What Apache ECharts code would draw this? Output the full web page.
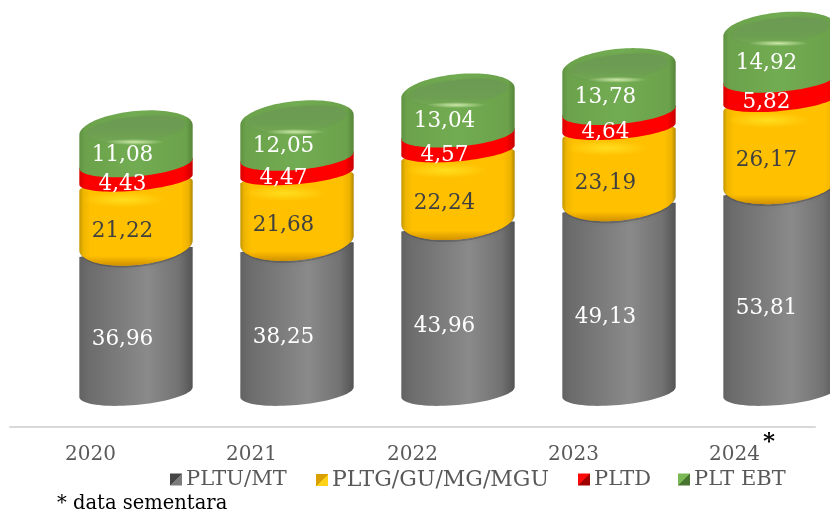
<!DOCTYPE html>
<html><head><meta charset="utf-8">
<style>html,body{margin:0;padding:0;background:#fff}#c{width:830px;height:515px}</style>
<script src="https://cdn.jsdelivr.net/npm/echarts@6/dist/echarts.min.js"></script>
</head><body><div id="c"></div>
<script>
const years = ['2020','2021','2022','2023','2024'];
const pltu = [36.96,38.25,43.96,49.13,53.81];
const pltg = [21.22,21.68,22.24,23.19,26.17];
const pltd = [4.43,4.47,4.57,4.64,5.82];
const ebt  = [11.08,12.05,13.04,13.78,14.92];
const names = ['PLTU/MT','PLTG/GU/MG/MGU','PLTD','PLT EBT'];
const FONT = 'DejaVu Serif';

const OFFSET = 45.5, LABEL_DX = 32, S = 5;
function arc(cx, cy, rx, ry, t0, t1, n) {
  const p = [];
  for (let i = 0; i <= n; i++) {
    const t = t0 + (t1 - t0) * i / n;
    p.push([cx + rx * Math.cos(t), cy + ry * Math.sin(t) - S * Math.cos(t)]);
  }
  return p;
}
function hgrad(stops) {
  return {type:'linear',x:0,y:0,x2:1,y2:0,colorStops:stops.map(s=>({offset:s[0],color:s[1]}))};
}
function vgrad(stops) {
  return {type:'linear',x:0,y:0,x2:0,y2:1,colorStops:stops.map(s=>({offset:s[0],color:s[1]}))};
}
function glow(color) {
  return {type:'radial',x:.5,y:.5,r:.5,colorStops:[{offset:0,color:color},{offset:1,color:color.replace(/[\d.]+\)$/,'0)')}]};
}
const grayFill = hgrad([[0,'#626262'],[.08,'#6c6c6c'],[.6,'#8a8a8a'],[.88,'#727272'],[1,'#545454']]);
const yellowFill = hgrad([[0,'#c39700'],[.035,'#eeb500'],[.1,'#ffc000'],[.9,'#ffc000'],[.965,'#ecb200'],[1,'#b08600']]);
const yellowLip = vgrad([[0,'rgba(190,125,0,0)'],[.62,'rgba(190,125,0,0)'],[1,'rgba(190,125,0,.7)']]);
const redFill = hgrad([[0,'#d80000'],[.05,'#fa0000'],[.92,'#ff0000'],[1,'#c80000']]);
const greenFill = hgrad([[0,'#5f9142'],[.05,'#6ba24b'],[.5,'#72ac52'],[.94,'#6ba24b'],[1,'#568539']]);

function poly(points, fill, blur) { return {type:'polygon',shape:{points},style:{fill,shadowBlur:blur||0,shadowColor:blur?'rgba(104,150,78,1)':'transparent'}}; }
function line(points, stroke, w, blur) {
  return {type:'polyline',shape:{points,smooth:0},style:{stroke,lineWidth:w,fill:'none',lineCap:'round',shadowBlur:blur||0,shadowColor:stroke}};
}
function oval(cx, cy, rx, ry, fill) {
  return {type:'circle',x:cx,y:cy,scaleY:ry/rx,shape:{cx:0,cy:0,r:rx},style:{fill}};
}

function makeRender(kind, textColor, dy) {
  return function (params, api) {
    const i = api.value(0);
    const c0 = api.coord([i, api.value(1)]);
    const c1 = api.coord([i, api.value(2)]);
    const v = api.value(3);
    const rx = api.size([1, 0])[0] * 0.352;
    const cx = c0[0] + OFFSET, yb = c0[1], yt = c1[1];
    const ch = [];
    if (kind === 'gray') {
      ch.push(poly(arc(cx, yb, rx, 13, 0, Math.PI, 40).concat(arc(cx, yt - 5, rx, 1, Math.PI, 2 * Math.PI, 8)), grayFill));
    } else if (kind === 'yellow') {
      const bottom = arc(cx, yb - 12, rx, 20, 0, Math.PI, 50);
      const pts = bottom.concat(arc(cx, yt + 6, rx, 8, Math.PI, 2 * Math.PI, 30));
      ch.push(line(arc(cx, yb - 12, rx - 1, 21, 0.1, Math.PI - 0.1, 40), 'rgba(50,50,50,.3)', 2, 4));
      ch.push(poly(pts, yellowFill));
      ch.push(poly(bottom, yellowLip));
      ch.push(oval(cx - 12, yt + 20, 42, 8, glow('rgba(255,232,40,.75)')));
    } else if (kind === 'red') {
      ch.push(poly(arc(cx, yb, rx, 11, 0, Math.PI, 40).concat(arc(cx, yt, rx, 6, Math.PI, 2 * Math.PI, 20)), redFill));
    } else {
      ch.push(poly(arc(cx, yb, rx, 13, 0, Math.PI, 40).concat(arc(cx, yt + 7, rx, 19, Math.PI, 2 * Math.PI, 50)), greenFill));
      ch.push(poly(arc(cx, yt + 6, rx - 8, 12, 0, 2 * Math.PI, 60), vgrad([[0,'#6c9a54'],[.7,'#6d9e51'],[1,'#72a852']]), 3));
      ch.push(oval(cx - 2, yt + 19, 30, 3, glow('rgba(215,240,180,.9)')));
    }
    ch.push({
      type:'text',z2:50,
      style:{
        x:c0[0] + LABEL_DX,
        y:(yb + yt) / 2 + 12 + dy,
        text:v.toFixed(2).replace('.', ','),
        fill:textColor,
        font:'21.5px "' + FONT + '"',
        align:'center',verticalAlign:'middle'
      }
    });
    return {type:'group',children:ch};
  };
}

function stacked(idx) {
  const arrs = [pltu, pltg, pltd, ebt];
  return years.map((_, i) => {
    let base = 0;
    for (let k = 0; k < idx; k++) base += arrs[k][i];
    return [i, base, base + arrs[idx][i], arrs[idx][i]];
  });
}
function diag(a, b) {
  return {type:'linear',x:0,y:0,x2:1,y2:1,colorStops:[{offset:0,color:a},{offset:.5,color:a},{offset:.5,color:b},{offset:1,color:b}]};
}
const legendColors = [diag('#454545','#7c7c7c'), diag('#d8a000','#ffd21a'), diag('#ff0808','#a00000'), diag('#79b854','#4a7530')];
const legendLeft = [165, 311, 573, 673];
const legendSize = [21, 22, 21, 21];
const kinds = ['gray','yellow','red','green'];
const textColors = ['#fff','#404040','#fff','#fff'];
const labelDy = [3, 1, 1, 0];

const chart = echarts.init(document.getElementById('c'), null, {renderer:'canvas'});
chart.setOption({
  animation:false,
  backgroundColor:'#fff',
  textStyle:{fontFamily:FONT},
  grid:{left:10,right:15,top:8.7,height:418.3},
  xAxis:{
    type:'category',data:years,position:'bottom',
    axisLine:{onZero:false,lineStyle:{color:'#d9d9d9',width:2}},
    axisTick:{show:false},
    axisLabel:{color:'#595959',fontSize:20,fontFamily:FONT,margin:18}
  },
  yAxis:{type:'value',min:-9.6,max:105,show:false,splitLine:{show:false}},
  legend:names.map((n,i)=>({
    left:legendLeft[i],top:464,itemWidth:12,itemHeight:12,selectedMode:false,
    itemStyle:{borderWidth:0},
    textStyle:{color:'#595959',fontSize:legendSize[i],fontFamily:FONT,padding:[0,0,0,-1]},
    data:[{name:n,icon:'rect',itemStyle:{color:legendColors[i]}}]
  })),
  graphic:[
    {type:'text',left:57,top:494,style:{text:'* data sementara',fill:'#000',font:'19.5px "'+FONT+'"'}},
    {type:'text',left:763,top:431,style:{text:'*',fill:'#000',font:'bold 23px "'+FONT+'"'}}
  ],
  series:names.map((n,i)=>({
    name:n,type:'custom',coordinateSystem:'cartesian2d',
    renderItem:makeRender(kinds[i],textColors[i],labelDy[i]),
    encode:{x:0,y:[1,2]},
    itemStyle:{color:legendColors[i]},
    data:stacked(i),
    silent:true
  }))
});
</script></body></html>
